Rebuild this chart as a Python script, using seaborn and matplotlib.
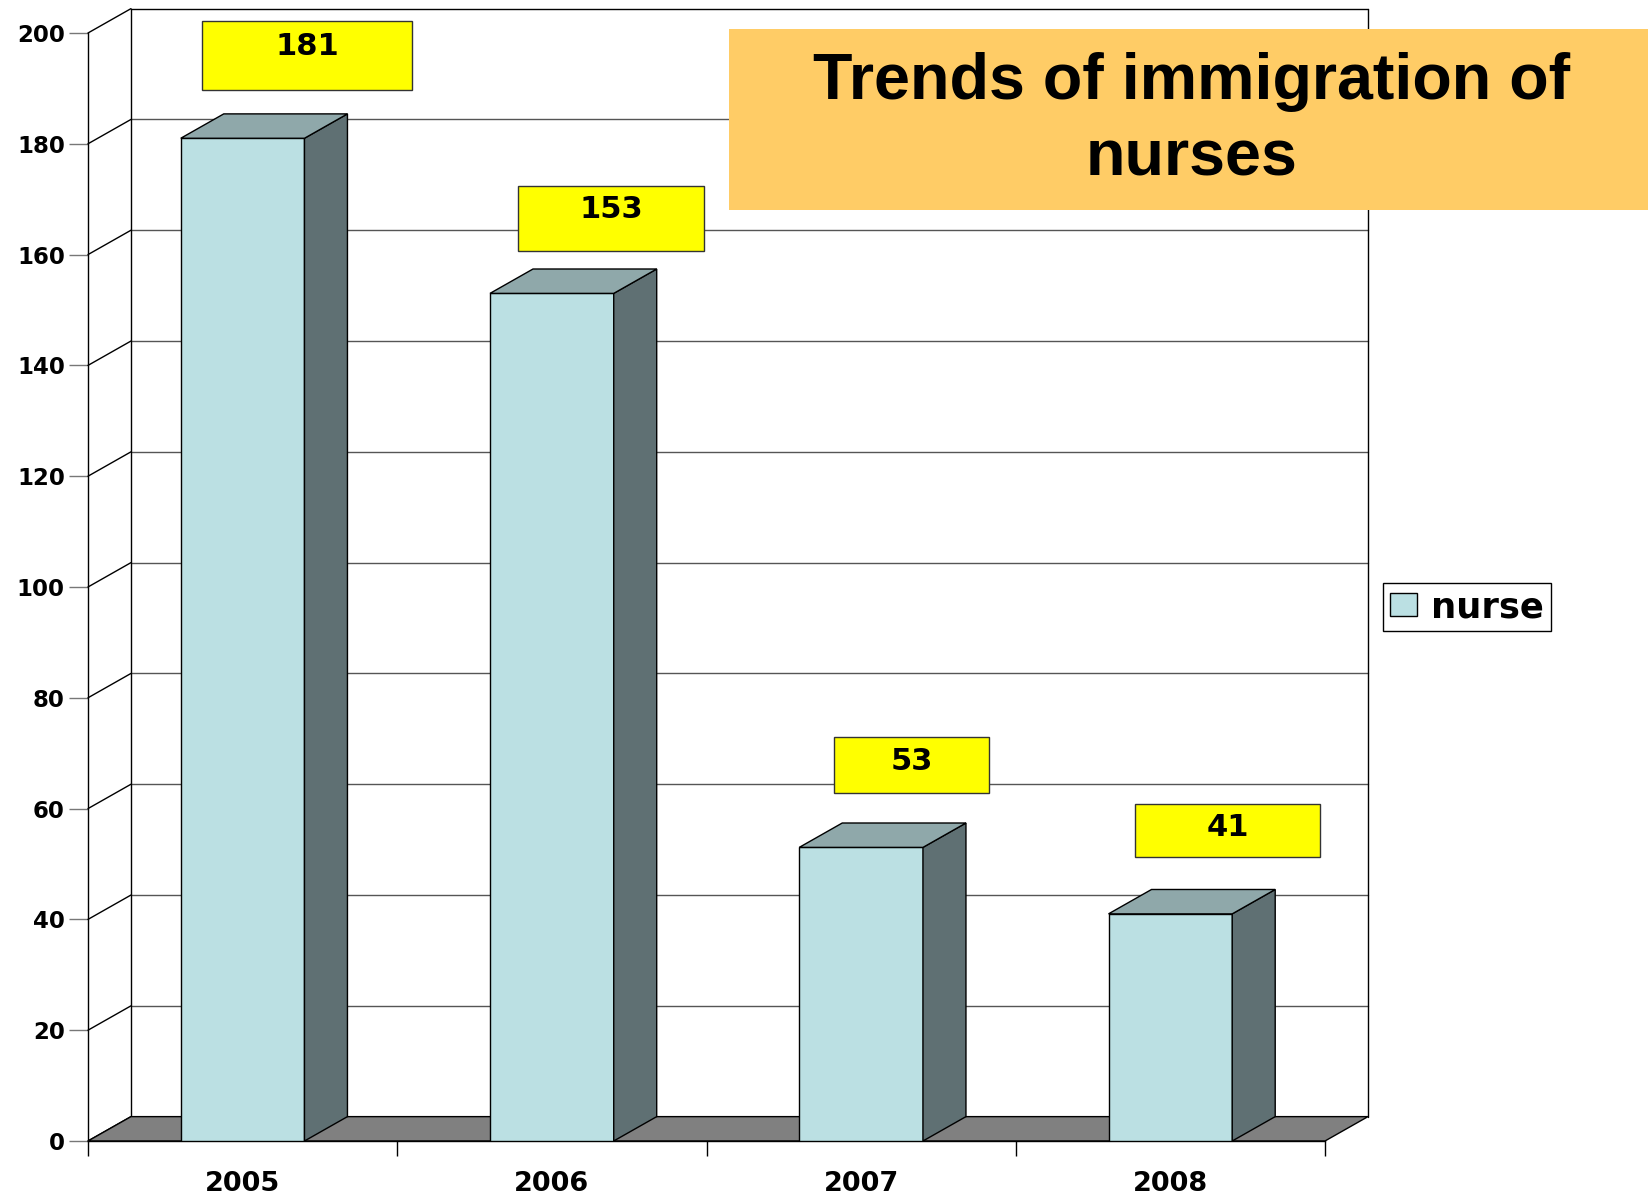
import numpy as np
import pandas as pd
import seaborn as sns
import matplotlib.pyplot as plt
from matplotlib.patches import Polygon, Rectangle, Patch

# data
years = ['2005', '2006', '2007', '2008']
nurses = [181, 153, 53, 41]
y_ticks = [0, 20, 40, 60, 80, 100, 120, 140, 160, 180, 200]

# layout / style constants
FRONT = '#BBE0E3'
SIDE = '#5F7073'
TOP = '#8FA8AA'
FLOOR = '#808080'
DX, DY = 0.139, 4.4          # depth offset of the fake 3d, in data units
# yellow label boxes (offsets relative to the bar)
LABEL_SHIFT = [0.208, 0.192, 0.163, 0.185]
LABEL_BOX_W = [0.68, 0.60, 0.50, 0.60]
LABEL_BOX_LO = [8.8, 7.6, 9.9, 10.2]
LABEL_BOX_H = [12.4, 11.8, 10.1, 9.6]
LABEL_TEXT_DY = [16.6, 15.2, 15.5, 15.5]

sns.set_style('white')
plt.rcParams['font.family'] = ['DejaVu Sans']
plt.rcParams['text.color'] = 'black'

df = pd.DataFrame({'year': years, 'nurse': nurses})

fig = plt.figure(figsize=(16.48, 11.98), dpi=100)
ax = fig.add_axes([88 / 1648, 1 - 1141 / 1198, (1325 - 88) / 1648, (1141 - 33) / 1198])

sns.barplot(data=df, x='year', y='nurse', color=FRONT, width=0.4, saturation=1,
            edgecolor='black', linewidth=1, ax=ax, zorder=3)
ax.set_xlim(-0.5, 3.5)
ax.set_ylim(0, 200)

# back wall: grid lines, walls and diagonals to the front axis
for v in y_ticks:
    if v > 0:
        ax.plot([-0.5 + DX, 3.5 + DX], [v + DY, v + DY], color='#555555' if v < 200 else 'black',
                lw=1, zorder=0.5, clip_on=False)
    ax.plot([-0.5, -0.5 + DX], [v, v + DY], color='black', lw=1, zorder=0.6, clip_on=False)
ax.plot([-0.5 + DX, -0.5 + DX], [DY, 200 + DY], color='black', lw=1, zorder=0.6, clip_on=False)
ax.plot([3.5 + DX, 3.5 + DX], [DY, 200 + DY], color='black', lw=1, zorder=0.6, clip_on=False)

# floor
ax.add_patch(Polygon([(-0.5, 0), (3.5, 0), (3.5 + DX, DY), (-0.5 + DX, DY)],
                     facecolor=FLOOR, edgecolor='black', lw=1, zorder=1, clip_on=False))

# top and side faces of every bar
for bar in ax.containers[0]:
    x0, h, w = bar.get_x(), bar.get_height(), bar.get_width()
    x1 = x0 + w
    ax.add_patch(Polygon([(x1, 0), (x1 + DX, DY), (x1 + DX, h + DY), (x1, h)],
                         facecolor=SIDE, edgecolor='black', lw=1, zorder=3, clip_on=False))
    ax.add_patch(Polygon([(x0, h), (x0 + DX, h + DY), (x1 + DX, h + DY), (x1, h)],
                         facecolor=TOP, edgecolor='black', lw=1, zorder=3, clip_on=False))

# yellow value labels
for i, v in enumerate(nurses):
    cx = i + LABEL_SHIFT[i]
    bw = LABEL_BOX_W[i]
    ax.add_patch(Rectangle((cx - bw / 2, v + LABEL_BOX_LO[i]), bw, LABEL_BOX_H[i], facecolor='#FFFF00',
                           edgecolor='#333333', lw=1, zorder=5, clip_on=False))
    ax.text(cx, v + LABEL_TEXT_DY[i], str(v), ha='center', va='center', fontsize=22,
            fontweight='bold', color='black', zorder=6, clip_on=False)

# axes, ticks
for s in ['top', 'right']:
    ax.spines[s].set_visible(False)
ax.spines['left'].set_color('black')
ax.spines['bottom'].set_color('black')
ax.spines['left'].set_linewidth(1)
ax.spines['bottom'].set_linewidth(1)
ax.set_yticks(y_ticks)
ax.set_yticklabels([str(t) for t in y_ticks], fontsize=16.5, fontweight='bold')
ax.tick_params(axis='y', direction='out', length=13.7, width=1, color='#777777', pad=3,
               left=True, labelcolor='black')
ax.set_xticks(range(len(years)))
ax.set_xticklabels(years, fontsize=19.5, fontweight='bold')
ax.set_xticks(np.arange(-0.5, len(years), 1.0), minor=True)
ax.tick_params(axis='x', which='major', length=0, pad=21.5, labelcolor='black')
ax.tick_params(axis='x', which='minor', direction='out', length=11, width=1, color='black', bottom=True)
ax.set_xlabel('')
ax.set_ylabel('')

# legend
fig.legend(handles=[Patch(facecolor=FRONT, edgecolor='black', label='nurse')],
           loc='center left', bbox_to_anchor=(1383 / 1648, 1 - 607 / 1198),
           prop={'size': 25.5, 'weight': 'bold'}, frameon=True, fancybox=False,
           edgecolor='black', framealpha=1, borderpad=0.2, handlelength=0.75,
           handleheight=0.6, handletextpad=0.4, borderaxespad=0)

# title box
fig.patches.append(Rectangle((729 / 1648, 1 - 210 / 1198), 1 - 729 / 1648, 181 / 1198,
                             transform=fig.transFigure, facecolor='#FFCC66', edgecolor='none', zorder=1))
fig.text(1192 / 1648, 1 - 120 / 1198, 'Trends of immigration of\nnurses', ha='center', va='center',
         fontsize=46.5, fontweight='bold', linespacing=1.36, color='black',
         family=['Liberation Sans Narrow', 'Liberation Sans', 'DejaVu Sans'], zorder=3)

fig.savefig('out.png', dpi=100)
